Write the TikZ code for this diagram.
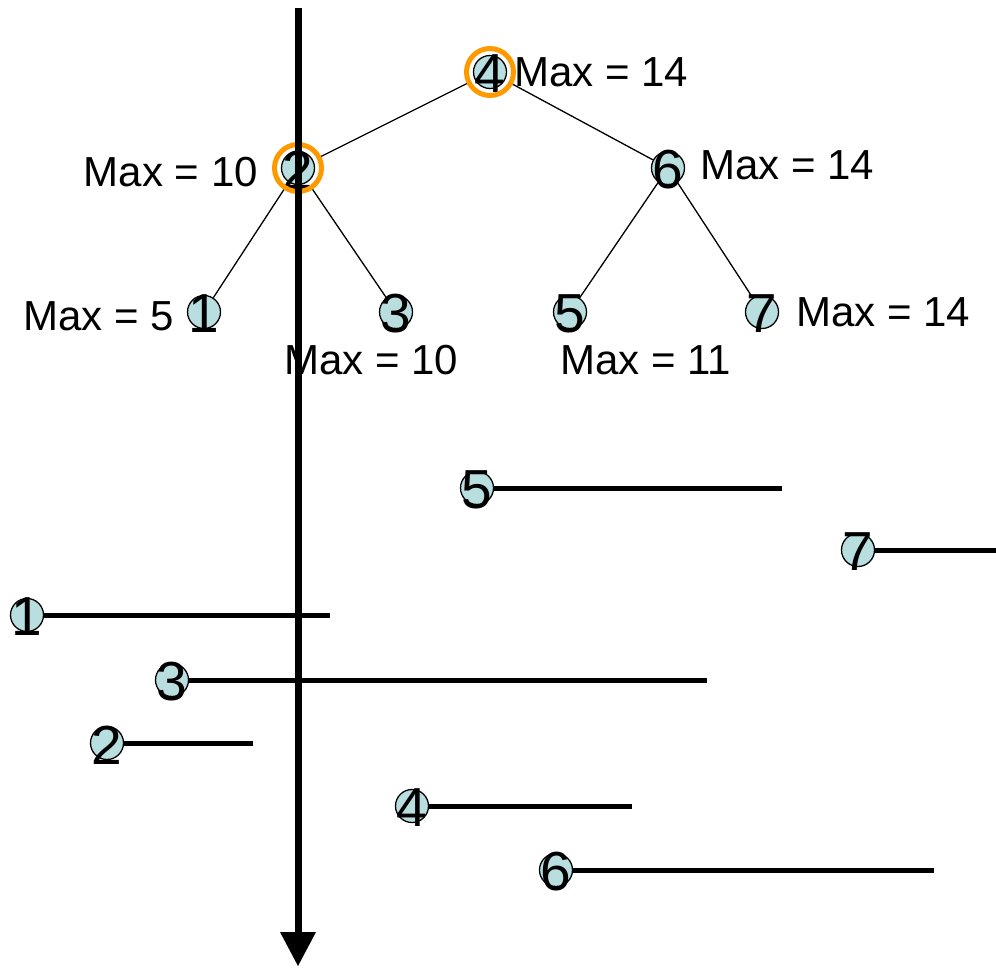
\documentclass[tikz,border=0pt]{standalone}
\usepackage{fontspec}
\setmainfont{Liberation Sans}
\definecolor{nodefill}{RGB}{184,222,224}
\definecolor{ringorange}{RGB}{255,153,0}
\begin{document}
\begin{tikzpicture}[x=1pt,y=-1pt,
  dot/.style={circle,draw=black,line width=1.3pt,fill=nodefill,minimum size=33pt,inner sep=0pt,
    label={[font=\fontsize{55}{55}\selectfont,inner sep=0pt,yshift=-2pt]center:#1}},
  ring/.style={circle,draw=ringorange,line width=5pt,minimum size=47pt,inner sep=0pt},
  maxlbl/.style={font=\fontsize{42}{42}\selectfont,inner sep=0pt},
  edge/.style={line width=1.3pt},
  ivl/.style={line width=5pt}]
\useasboundingbox (0,0) rectangle (996,968);
% tree
\node[dot=4] (t4) at (490,72) {};
\node[dot=2] (t2) at (298,168) {};
\node[dot=6] (t6) at (668,168) {};
\node[dot=1] (t1) at (204,312) {};
\node[dot=3] (t3) at (396,312) {};
\node[dot=5] (t5) at (570,312) {};
\node[dot=7] (t7) at (762,312) {};
\node[ring] (r4) at (t4) {};
\node[ring] (r2) at (t2) {};
\draw[edge] (r4) -- (r2);
\draw[edge] (r4) -- (t6);
\draw[edge] (r2) -- (t1);
\draw[edge] (r2) -- (t3);
\draw[edge] (t6) -- (t5);
\draw[edge] (t6) -- (t7);
% max labels
\node[maxlbl,anchor=west] (m4) at (514,72) {Max = 14};
\node[maxlbl,anchor=east] (m2) at (258,172) {Max = 10};
\node[maxlbl,anchor=west] (m6) at (700,165) {Max = 14};
\node[maxlbl,anchor=east] (m1) at (174,316) {Max = 5};
\node[maxlbl,anchor=west] (m3) at (284,360) {Max = 10};
\node[maxlbl,anchor=west] (m5) at (560,360) {Max = 11};
\node[maxlbl,anchor=west] (m7) at (796,312) {Max = 14};
% intervals
\node[dot=5] (i5) at (477,488) {};
\coordinate (e5) at (782,488);
\node[dot=7] (i7) at (858,550) {};
\coordinate (e7) at (996,550);
\node[dot=1] (i1) at (27,615) {};
\coordinate (e1) at (330,615);
\node[dot=3] (i3) at (172,680) {};
\coordinate (e3) at (707,680);
\node[dot=2] (i2) at (107,743) {};
\coordinate (e2) at (253,743);
\node[dot=4] (i4) at (412,806) {};
\coordinate (e4) at (632,806);
\node[dot=6] (i6) at (556,870) {};
\coordinate (e6) at (934,870);
\foreach \n in {5,7,1,3,2,4,6} {\draw[ivl] (i\n) -- (e\n);}
% sweep line
\coordinate (top) at (298,8);
\coordinate (bot) at (298,934);
\coordinate (tipL) at (280,932);
\coordinate (tipR) at (316,932);
\coordinate (tip) at (298,966);
\draw[line width=7pt] (top) -- (bot);
\fill (tipL) -- (tipR) -- (tip) -- cycle;
\end{tikzpicture}
\end{document}
